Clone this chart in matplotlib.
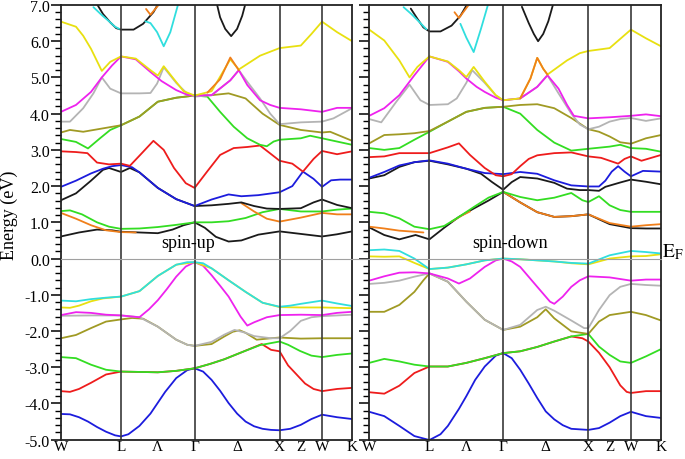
import numpy as np
import matplotlib
matplotlib.use("Agg")
import matplotlib.pyplot as plt
from matplotlib.lines import Line2D
from matplotlib.ticker import MultipleLocator, FormatStrFormatter

plt.rcParams['font.family'] = ['Liberation Serif', 'DejaVu Serif']
plt.rcParams['mathtext.fontset'] = 'stix'

# high symmetry path W-L-G-X-W-K (fcc), segment lengths in 2pi/a
seg = [np.sqrt(2) / 2, np.sqrt(3) / 2, 1.0, 0.5, np.sqrt(2) / 4]
ksym = np.concatenate([[0], np.cumsum(seg)])
tsym = np.arange(6)  # t = 0 W, 1 L, 2 Gamma, 3 X, 4 W, 5 K
klabels = ['W', 'L', 'Λ', 'Γ', 'Δ', 'X', 'Z', 'W', 'K']
klabel_t = [0, 1, 1.5, 2, 2.5, 3, 3.5, 4, 5]

blk = '#1a1a1a'
org = '#f07f1a'
grn = '#33dd22'
red = '#ee1c1c'
blu = '#1c1cdd'
yel = '#e8e010'
mag = '#ee22ee'
gry = '#b4b4b4'
olv = '#a09a24'
cyn = '#30dede'

# ---------------- spin-up bands: (t, E) ----------------
up_blue1 = [(0, -4.29), (.15, -4.3), (.3, -4.38), (.45, -4.5), (.6, -4.65), (.75, -4.78), (.9, -4.88), (1, -4.91),
            (1.1, -4.85), (1.25, -4.62), (1.4, -4.28), (1.5, -3.98), (1.6, -3.68), (1.75, -3.3), (1.9, -3.08), (2, -3.03),
            (2.1, -3.12), (2.2, -3.35), (2.3, -3.65), (2.4, -3.99), (2.5, -4.28), (2.6, -4.5), (2.7, -4.63), (2.8, -4.7),
            (2.9, -4.73), (3, -4.74), (3.25, -4.7), (3.5, -4.59), (3.75, -4.43), (4, -4.31), (4.5, -4.38), (5, -4.43)]
up_red1 = [(0, -3.66), (.15, -3.68), (.3, -3.6), (.5, -3.43), (.75, -3.2), (1, -3.12), (1.25, -3.13), (1.5, -3.14),
           (1.75, -3.1), (2, -3.03), (2.18, -2.91), (2.35, -2.78), (2.54, -2.6), (2.79, -2.36), (2.9, -2.52),
           (3, -2.56), (3.2, -2.95), (3.4, -3.2), (3.6, -3.45), (3.8, -3.6), (4, -3.66), (4.5, -3.6), (5, -3.57)]
up_green1 = [(0, -2.72), (.25, -2.75), (.5, -2.93), (.75, -3.07), (1, -3.12), (1.25, -3.13), (1.5, -3.14),
             (1.75, -3.1), (2, -3.03), (2.18, -2.91), (2.35, -2.78), (2.54, -2.6), (2.77, -2.39), (3, -2.29),
             (3.2, -2.38), (3.48, -2.55), (3.75, -2.68), (4, -2.72), (4.5, -2.66), (5, -2.62)]
up_olive1 = [(0, -2.2), (.25, -2.11), (.5, -1.92), (.75, -1.74), (1, -1.68), (1.15, -1.64), (1.3, -1.66),
             (1.5, -1.88), (1.75, -2.24), (1.9, -2.38), (2, -2.41), (2.2, -2.36), (2.35, -2.15), (2.45, -2.02),
             (2.53, -1.98), (2.6, -2.05), (2.73, -2.24), (2.9, -2.2), (3, -2.18), (3.5, -2.21), (4, -2.2),
             (4.5, -2.2), (5, -2.2)]
up_gray1 = [(0, -1.58), (.5, -1.57), (1, -1.57), (1.25, -1.62), (1.5, -1.88), (1.75, -2.24), (1.9, -2.38),
            (2, -2.41), (2.2, -2.3), (2.35, -2.1), (2.47, -1.97), (2.6, -2.05), (2.7, -2.14), (2.9, -2.2),
            (3, -2.2), (3.25, -2.0), (3.5, -1.72), (3.75, -1.62), (4, -1.59), (4.5, -1.57), (5, -1.55)]
up_mag1 = [(0, -1.56), (.25, -1.48), (.5, -1.5), (.75, -1.55), (1, -1.57), (1.15, -1.6), (1.25, -1.62),
           (1.38, -1.4), (1.5, -1.15), (1.62, -0.85), (1.75, -0.5), (1.88, -0.22), (2, -0.1), (2.1, -0.2),
           (2.2, -0.46), (2.3, -0.75), (2.4, -1.05), (2.54, -1.6), (2.62, -1.85), (2.7, -1.76), (2.85, -1.62),
           (3, -1.56), (3.5, -1.55), (4, -1.56), (4.5, -1.5), (5, -1.47)]
up_yellow1 = [(0, -1.35), (.15, -1.36), (.3, -1.3), (.5, -1.18), (.7, -1.1), (1, -1.05), (1.25, -0.9),
              (1.5, -0.48), (1.75, -0.17), (2, -0.1), (2.2, -0.27), (2.4, -0.6), (2.6, -0.92), (2.8, -1.22),
              (3, -1.34), (3.5, -1.35), (4, -1.35), (4.5, -1.36), (5, -1.37)]
up_cyan1 = [(0, -1.16), (.25, -1.18), (.5, -1.12), (.75, -1.08), (1, -1.05), (1.25, -0.9), (1.5, -0.48),
            (1.75, -0.17), (1.9, -0.1), (2, -0.1), (2.1, -0.13), (2.2, -0.27), (2.4, -0.6), (2.6, -0.92),
            (2.8, -1.22), (3, -1.33), (3.25, -1.3), (3.5, -1.25), (4, -1.16), (4.5, -1.24), (5, -1.31)]
up_black_c1 = [(0, 0.61), (.3, 0.72), (.6, 0.8), (.85, 0.78), (1, 0.74), (1.25, 0.72), (1.5, 0.7), (1.7, 0.8),
               (1.85, 0.92), (2, 1.0), (2.12, 0.85), (2.25, 0.6), (2.4, 0.47), (2.55, 0.5), (2.75, 0.66),
               (3, 0.75), (3.5, 0.68), (4, 0.61), (4.5, 0.67), (5, 0.75)]
up_orange_c1 = [(0, 1.26), (.25, 1.1), (.5, 0.92), (.75, 0.78), (1, 0.73), (1.2, 0.72)]
up_green_c1 = [(0, 1.31), (.15, 1.33), (.35, 1.22), (.6, 1.0), (.8, 0.88), (1, 0.82), (1.25, 0.83), (1.5, 0.87),
               (1.75, 0.93), (2, 1.0), (2.2, 1.0), (2.4, 1.03), (2.6, 1.12), (2.8, 1.28), (3, 1.37), (3.5, 1.3),
               (4, 1.3), (4.5, 1.35), (5, 1.38)]
up_orange_c2 = [(2.55, 1.53), (2.7, 1.3), (2.85, 1.1), (3, 1.02), (3.5, 1.13), (4, 1.26), (4.5, 1.22), (5, 1.22)]
up_black_c2 = [(0, 1.61), (.25, 1.8), (.5, 2.15), (.7, 2.45), (.8, 2.5), (1, 2.39), (1.12, 2.5), (1.25, 2.38),
               (1.5, 1.95), (1.75, 1.64), (2, 1.45), (2.2, 1.47), (2.4, 1.51), (2.55, 1.55), (2.7, 1.45),
               (2.85, 1.38), (3, 1.37), (3.5, 1.39), (3.8, 1.55), (4, 1.63), (4.5, 1.48), (5, 1.39)]
up_blue_c = [(0, 1.98), (.25, 2.15), (.5, 2.35), (.7, 2.48), (.85, 2.55), (1, 2.58), (1.15, 2.52), (1.25, 2.38),
             (1.5, 1.95), (1.75, 1.64), (2, 1.45), (2.2, 1.63), (2.4, 1.77), (2.55, 1.72), (2.75, 1.75),
             (3, 1.83), (3.3, 2.0), (3.55, 2.4), (3.8, 2.2), (4, 1.98), (4.3, 2.16), (4.6, 2.18), (5, 2.18)]
up_red_c = [(0, 2.96), (.25, 2.94), (.44, 2.91), (.6, 2.65), (.8, 2.6), (1, 2.62), (1.12, 2.56), (1.26, 2.86),
            (1.44, 3.25), (1.58, 3.0), (1.72, 2.5), (1.88, 2.08), (2, 1.95), (2.15, 2.41), (2.3, 2.86),
            (2.46, 3.05), (2.62, 3.08), (2.77, 3.12), (2.88, 2.92), (3, 2.7), (3.3, 2.62), (3.55, 2.4),
            (3.8, 2.75), (4, 2.97), (4.5, 2.88), (5, 2.96)]
up_green_c2 = [(0, 3.3), (.25, 3.22), (.45, 3.04), (.65, 3.32), (.82, 3.55), (1, 3.68), (1.25, 3.92), (1.5, 4.33),
               (1.75, 4.44), (2, 4.5), (2.15, 4.47), (2.3, 4.05), (2.46, 3.64), (2.62, 3.32), (2.77, 3.14),
               (2.85, 3.1), (2.93, 3.23), (3, 3.28), (3.5, 3.32), (3.72, 3.39), (4, 3.32), (4.5, 3.23), (5, 3.14)]
up_olive_c = [(0, 3.48), (.15, 3.55), (.37, 3.5), (.65, 3.58), (1, 3.68), (1.25, 3.92), (1.5, 4.33), (1.75, 4.44),
              (2, 4.5), (2.2, 4.51), (2.4, 4.56), (2.6, 4.42), (2.8, 4.0), (3, 3.69), (3.5, 3.55), (4, 3.48),
              (4.27, 3.5), (5, 3.25)]
up_gray_c = [(0, 3.78), (.15, 3.78), (.37, 4.15), (.54, 4.56), (.68, 5.0), (.82, 4.69), (1, 4.56), (1.25, 4.56),
             (1.4, 4.57), (1.49, 4.83), (1.58, 5.28), (1.75, 4.85), (1.9, 4.55), (2, 4.47), (2.2, 4.51),
             (2.42, 4.92), (2.52, 5.2), (2.62, 4.88), (2.77, 4.42), (2.89, 4.0), (3, 3.71), (3.5, 3.76),
             (4, 3.78), (4.38, 3.87), (5, 4.15)]
up_mag_c = [(0, 4.05), (.25, 4.24), (.5, 4.6), (.68, 5.0), (.85, 5.33), (1, 5.58), (1.2, 5.5), (1.4, 5.15),
            (1.55, 4.9), (1.75, 4.65), (1.9, 4.52), (2, 4.5), (2.2, 4.51), (2.42, 4.92), (2.52, 5.2),
            (2.62, 4.79), (2.77, 4.37), (2.89, 4.24), (3, 4.16), (3.5, 4.12), (4, 4.05), (4.5, 4.16), (5, 4.16)]
up_yellow_c = [(0, 6.54), (.25, 6.4), (.37, 6.15), (.5, 5.79), (.68, 5.18), (.82, 5.43), (1, 5.58), (1.2, 5.52),
               (1.4, 5.2), (1.5, 5.05), (1.58, 5.31), (1.7, 5.0), (1.85, 4.62), (2, 4.5), (2.2, 4.62),
               (2.42, 5.5), (2.52, 5.22), (2.77, 5.6), (3, 5.81), (3.5, 5.88), (3.75, 6.2), (4, 6.54),
               (4.5, 6.25), (5, 6.0)]
up_orange_hi = [(2.15, 4.58), (2.3, 4.95), (2.42, 5.55), (2.52, 5.2)]
up_black_t1 = [(0.59, 7.05), (0.7, 6.75), (0.82, 6.52), (0.92, 6.36), (1, 6.32), (1.17, 6.32), (1.3, 6.48),
               (1.44, 6.8), (1.51, 7.05)]
up_cyan_t1 = [(0.54, 6.94), (0.68, 6.72), (0.8, 6.55), (0.9, 6.4), (0.97, 6.34)]
up_cyan_t2 = [(1.33, 6.55), (1.4, 6.5), (1.49, 6.25), (1.58, 5.86), (1.67, 6.25), (1.78, 7.05)]
up_orange_t1 = [(1.34, 6.89), (1.4, 6.73), (1.53, 7.05)]
up_black_t2 = [(2.26, 7.05), (2.3, 6.66), (2.36, 6.34), (2.43, 6.14), (2.5, 6.34), (2.56, 6.7), (2.6, 7.05)]

# ---------------- spin-down bands: (t, E) ----------------
dn_blue1 = [(0, -4.23), (.25, -4.35), (.5, -4.62), (.75, -4.9), (1, -5.01), (1.15, -4.85), (1.25, -4.62),
            (1.4, -4.15), (1.5, -3.8), (1.62, -3.35), (1.75, -2.98), (1.9, -2.68), (2, -2.61), (2.1, -2.75),
            (2.2, -3.07), (2.3, -3.45), (2.4, -3.85), (2.5, -4.22), (2.6, -4.44), (2.7, -4.6), (2.8, -4.7),
            (3, -4.73), (3.25, -4.68), (3.5, -4.53), (3.75, -4.35), (4, -4.23), (4.5, -4.35), (5, -4.4)]
dn_red1 = [(0, -3.69), (.25, -3.73), (.5, -3.51), (.75, -3.16), (1, -2.98), (1.25, -2.98), (1.5, -2.88),
           (1.75, -2.75), (2, -2.61), (2.2, -2.56), (2.4, -2.44), (2.6, -2.29), (2.8, -2.15), (2.93, -2.2),
           (3, -2.29), (3.25, -2.6), (3.5, -3.0), (3.75, -3.5), (3.9, -3.68), (4, -3.71), (4.5, -3.66), (5, -3.66)]
dn_green1 = [(0, -2.88), (.25, -2.77), (.5, -2.84), (.75, -2.93), (1, -2.98), (1.25, -2.98), (1.5, -2.88),
             (1.75, -2.75), (2, -2.61), (2.2, -2.56), (2.4, -2.44), (2.6, -2.29), (2.8, -2.15), (3, -2.08),
             (3.25, -2.43), (3.5, -2.66), (3.75, -2.84), (4, -2.88), (4.5, -2.7), (5, -2.5)]
dn_olive1 = [(0, -1.47), (.25, -1.47), (.5, -1.28), (.75, -0.92), (.9, -0.6), (1, -0.41), (1.25, -0.64),
             (1.5, -1.19), (1.75, -1.69), (2, -1.97), (2.2, -1.88), (2.4, -1.62), (2.5, -1.4), (2.6, -1.65),
             (2.8, -2.01), (3, -2.08), (3.25, -1.74), (3.5, -1.56), (4, -1.47), (4.5, -1.56), (5, -1.71)]
dn_gray1 = [(0, -0.7), (.25, -0.67), (.5, -0.61), (.75, -0.5), (1, -0.41), (1.25, -0.64), (1.5, -1.19),
            (1.75, -1.69), (2, -1.97), (2.2, -1.83), (2.4, -1.42), (2.5, -1.33), (2.6, -1.44), (2.8, -1.71),
            (2.95, -1.92), (3, -1.92), (3.25, -1.42), (3.5, -1.01), (3.75, -0.78), (4, -0.7), (4.5, -0.73),
            (5, -0.75)]
dn_mag1 = [(0, -0.61), (.25, -0.49), (.5, -0.39), (.75, -0.38), (1, -0.41), (1.25, -0.55), (1.4, -0.69),
           (1.55, -0.55), (1.75, -0.23), (1.9, -0.05), (2, 0.0), (2.1, -0.08), (2.2, -0.23), (2.4, -0.78),
           (2.55, -1.19), (2.6, -1.25), (2.7, -1.05), (2.8, -0.78), (2.9, -0.6), (3, -0.49), (3.5, -0.52),
           (4, -0.61), (4.5, -0.58), (5, -0.58)]
dn_yellow1 = [(0, 0.06), (.25, 0.05), (.5, 0.06), (.75, -0.12), (1, -0.29), (1.25, -0.25), (1.5, -0.16),
              (1.75, -0.05), (2, 0.0), (2.2, -0.02), (2.4, -0.05), (2.6, -0.08), (2.8, -0.13), (3, -0.16),
              (3.5, 0.0), (4, 0.06), (4.5, 0.07), (5, 0.12)]
dn_cyan1 = [(0, 0.23), (.25, 0.25), (.5, 0.21), (.75, 0.0), (1, -0.29), (1.25, -0.25), (1.5, -0.16),
            (1.75, -0.05), (2, 0.0), (2.2, -0.02), (2.4, -0.05), (2.6, -0.08), (2.8, -0.12), (3, -0.14),
            (3.5, 0.09), (4, 0.21), (4.5, 0.18), (5, 0.14)]
dn_black_c1 = [(0, 0.86), (.25, 0.65), (.5, 0.53), (.77, 0.65), (1, 0.53), (1.2, 0.85), (1.4, 1.15),
               (1.6, 1.38), (1.8, 1.6), (2, 1.84), (2.2, 1.55), (2.4, 1.28), (2.6, 1.15), (2.8, 1.17),
               (3, 1.22), (3.5, 0.95), (4, 0.84), (4.5, 0.83), (5, 0.83)]
dn_orange_c1 = [(0, 0.88), (.25, 0.83), (.5, 0.77), (.75, 0.74), (.9, 0.72)]
dn_orange_c2 = [(1.3, 1.02), (1.45, 1.2), (1.55, 1.3)]
dn_orange_c3 = [(2, 1.84), (2.2, 1.55), (2.4, 1.28), (2.6, 1.15), (2.8, 1.17), (3, 1.22), (3.5, 0.98),
                (4, 0.88), (4.5, 0.92), (5, 0.95)]
dn_green_c1 = [(0, 1.29), (.25, 1.25), (.5, 1.11), (.75, 0.88), (1, 0.81), (1.2, 0.9), (1.4, 1.15), (1.6, 1.42),
               (1.8, 1.68), (2, 1.84), (2.2, 1.7), (2.4, 1.61), (2.6, 1.68), (2.8, 1.81), (2.93, 1.61),
               (3, 1.56), (3.25, 1.72), (3.5, 1.47), (3.75, 1.34), (4, 1.29), (4.5, 1.29), (5, 1.29)]
dn_black_c2 = [(0, 2.21), (.25, 2.3), (.5, 2.53), (.75, 2.66), (1, 2.7), (1.25, 2.6), (1.5, 2.48), (1.7, 2.34),
               (1.85, 2.11), (2, 1.9), (2.1, 2.11), (2.2, 2.25), (2.4, 2.21), (2.6, 2.09), (2.75, 1.93),
               (2.9, 1.89), (3, 1.89), (3.25, 1.87), (3.4, 1.98), (3.75, 2.1), (4, 2.18), (4.5, 2.12), (5, 2.05)]
dn_blue_c = [(0, 2.23), (.25, 2.39), (.5, 2.57), (.75, 2.66), (1, 2.71), (1.25, 2.62), (1.5, 2.48),
             (1.75, 2.36), (2, 2.33), (2.2, 2.39), (2.4, 2.34), (2.6, 2.16), (2.8, 2.02), (3, 1.99),
             (3.25, 1.99), (3.4, 2.15), (3.55, 2.4), (3.7, 2.55), (3.85, 2.4), (4, 2.27), (4.4, 2.42), (5, 2.4)]
dn_red_c = [(0, 2.8), (.25, 2.82), (.5, 2.91), (.75, 2.91), (1, 2.91), (1.25, 3.07), (1.4, 3.18), (1.55, 2.86),
            (1.75, 2.5), (1.9, 2.3), (2, 2.27), (2.1, 2.33), (2.2, 2.55), (2.3, 2.75), (2.4, 2.85), (2.6, 2.91),
            (2.8, 2.93), (3, 2.82), (3.3, 2.78), (3.55, 2.68), (3.7, 2.62), (3.85, 2.75), (4, 2.82),
            (4.35, 2.7), (5, 2.86)]
dn_green_c2 = [(0, 3.05), (.25, 3.0), (.5, 3.05), (.75, 3.28), (1, 3.5), (1.25, 3.78), (1.5, 4.05),
               (1.75, 4.16), (2, 4.19), (2.2, 4.0), (2.4, 3.55), (2.6, 3.2), (2.8, 2.98), (3, 3.03), (3.5, 3.09),
               (3.75, 3.14), (4, 3.05), (4.5, 3.03), (5, 2.95)]
dn_olive_c = [(0, 3.18), (.25, 3.41), (.5, 3.43), (.75, 3.46), (1, 3.52), (1.25, 3.78), (1.5, 4.05),
              (1.75, 4.16), (2, 4.19), (2.2, 4.24), (2.4, 4.26), (2.6, 4.15), (2.8, 3.88), (3, 3.57),
              (3.25, 3.5), (3.5, 3.37), (3.75, 3.21), (4, 3.17), (4.5, 3.32), (5, 3.41)]
dn_gray_c = [(0, 3.85), (.2, 3.76), (.45, 4.33), (.67, 4.8), (.85, 4.37), (1, 4.24), (1.25, 4.26), (1.37, 4.42),
             (1.5, 4.85), (1.58, 5.2), (1.75, 4.85), (1.9, 4.5), (2, 4.37), (2.2, 4.42), (2.4, 4.74),
             (2.52, 5.06), (2.65, 4.56), (2.8, 4.0), (2.9, 3.7), (3, 3.57), (3.25, 3.64), (3.5, 3.78),
             (3.75, 3.85), (4, 3.88), (4.5, 3.8), (5, 3.87)]
dn_mag_c = [(0, 3.94), (.25, 4.15), (.5, 4.51), (.75, 5.06), (1, 5.58), (1.25, 5.43), (1.4, 5.17), (1.5, 4.97),
            (1.64, 4.74), (1.75, 4.6), (1.9, 4.44), (2, 4.37), (2.2, 4.42), (2.4, 4.74), (2.52, 5.06),
            (2.65, 4.69), (2.75, 4.24), (2.83, 3.94), (3, 3.87), (3.5, 3.9), (4, 3.94), (4.5, 3.98), (5, 3.93)]
dn_yellow_c = [(0, 6.32), (.25, 6.02), (.5, 5.47), (.67, 5.0), (.8, 5.29), (1, 5.58), (1.25, 5.44), (1.4, 5.2),
               (1.5, 5.01), (1.6, 5.29), (1.75, 4.88), (1.9, 4.51), (2, 4.37), (2.2, 4.42), (2.32, 4.97),
               (2.4, 5.54), (2.47, 5.24), (2.52, 5.08), (2.75, 5.47), (2.9, 5.67), (3, 5.73), (3.5, 5.81),
               (4, 6.32), (4.5, 6.08), (5, 5.86)]
dn_orange_hi = [(2.2, 4.42), (2.32, 4.97), (2.4, 5.54), (2.47, 5.24), (2.52, 5.08)]
dn_black_t1 = [(0.69, 6.9), (0.8, 6.62), (0.9, 6.38), (1, 6.27), (1.15, 6.27), (1.3, 6.43), (1.42, 6.7),
               (1.52, 7.05)]
dn_cyan_t1 = [(0.57, 6.94), (0.7, 6.75), (0.82, 6.55), (0.95, 6.33)]
dn_cyan_t2 = [(1.42, 6.48), (1.5, 6.1), (1.6, 5.7), (1.7, 6.35), (1.8, 7.05)]
dn_orange_t1 = [(1.34, 6.8), (1.4, 6.64), (1.55, 7.05)]
dn_black_t2 = [(2.22, 6.95), (2.3, 6.5), (2.36, 6.2), (2.41, 6.0), (2.47, 6.2), (2.53, 6.55), (2.59, 7.05)]

up_bands = [(up_blue1, blu), (up_red1, red), (up_green1, grn), (up_olive1, olv), (up_gray1, gry),
            (up_mag1, mag), (up_yellow1, yel), (up_cyan1, cyn),
            (up_black_c1, blk), (up_orange_c1, org), (up_green_c1, grn), (up_orange_c2, org),
            (up_black_c2, blk), (up_blue_c, blu), (up_red_c, red), (up_green_c2, grn), (up_olive_c, olv),
            (up_gray_c, gry), (up_mag_c, mag), (up_yellow_c, yel), (up_orange_hi, org),
            (up_black_t1, blk), (up_cyan_t1, cyn), (up_cyan_t2, cyn), (up_orange_t1, org), (up_black_t2, blk)]
dn_bands = [(dn_blue1, blu), (dn_red1, red), (dn_green1, grn), (dn_olive1, olv), (dn_gray1, gry),
            (dn_mag1, mag), (dn_yellow1, yel), (dn_cyan1, cyn),
            (dn_black_c1, blk), (dn_orange_c1, org), (dn_orange_c2, org), (dn_orange_c3, org),
            (dn_green_c1, grn), (dn_black_c2, blk), (dn_blue_c, blu), (dn_red_c, red), (dn_green_c2, grn),
            (dn_olive_c, olv), (dn_gray_c, gry), (dn_mag_c, mag), (dn_yellow_c, yel), (dn_orange_hi, org),
            (dn_black_t1, blk), (dn_cyan_t1, cyn), (dn_cyan_t2, cyn), (dn_orange_t1, org), (dn_black_t2, blk)]

fig = plt.figure(figsize=(6.85, 4.6), dpi=100)
ax1 = fig.add_axes([0.089, 0.042, 0.425, 0.945])
ax2 = fig.add_axes([0.539, 0.042, 0.426, 0.945])

for ax, bands, label, lx in [(ax1, up_bands, 'spin-up', 1.50), (ax2, dn_bands, 'spin-down', 1.65)]:
    for pts, col in bands:
        t, e = zip(*pts)
        ax.plot(np.interp(t, tsym, ksym), e, color=col, lw=1.3, solid_capstyle='round')
    for kv in ksym[1:5]:
        ax.axvline(kv, color='#3a3a3a', lw=1.2)
    ax.set_xlim(ksym[0], ksym[-1])
    ax.set_ylim(-5, 7)
    ax.set_xticks(np.interp(klabel_t, tsym, ksym))
    ax.set_xticklabels(klabels, fontsize=11)
    ax.tick_params(axis='x', length=0, pad=0.5)
    ax.yaxis.set_major_locator(MultipleLocator(1.0))
    ax.yaxis.set_minor_locator(MultipleLocator(0.2))
    ax.yaxis.set_major_formatter(FormatStrFormatter('%.1f'))
    ax.tick_params(axis='y', which='major', direction='out', length=7, width=1.1, labelsize=11.5, pad=1)
    ax.tick_params(axis='y', which='minor', direction='out', length=4, width=1.0)
    for sp in ax.spines.values():
        sp.set_linewidth(1.3)
        sp.set_color('#222222')
    ax.text(lx, 0.43, label, fontsize=13, ha='center', va='center')

ax2.tick_params(axis='y', labelleft=False)

# Fermi level across both panels
p1 = ax1.get_position()
p2 = ax2.get_position()
yf = p1.y0 + p1.height * 5 / 12
fig.add_artist(Line2D([p1.x0, p2.x1], [yf, yf], transform=fig.transFigure, color='#a0a0a0', lw=0.8, zorder=0.5))
fig.text(0.967, yf + 0.004, r'$\mathrm{E_F}$', fontsize=14, ha='left', va='baseline')

fig.text(0.014, 0.533, 'Energy (eV)', rotation=90, fontsize=13, ha='center', va='center')

fig.savefig('out.png', dpi=100)
